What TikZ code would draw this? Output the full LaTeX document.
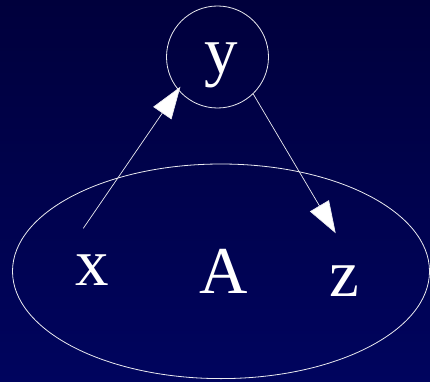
\documentclass[tikz,border=0pt]{standalone}
\usepackage{fontspec}
\setmainfont{Liberation Serif}
\usetikzlibrary{arrows.meta,shapes.geometric}
\definecolor{bgtop}{RGB}{0,0,60}
\definecolor{bgbot}{RGB}{0,4,94}
\definecolor{ink}{RGB}{235,235,240}
\tikzset{
  lbl/.style={text=white, font=\fontsize{67}{67}\selectfont, inner sep=0pt, anchor=base},
  circ/.style={draw=ink, line width=0.8pt, circle, minimum size=102pt, inner sep=0pt},
  setshape/.style={draw=ink, line width=0.8pt, ellipse, minimum width=417pt, minimum height=214.6pt, inner sep=0pt},
  arr/.style={draw=ink, line width=0.7pt, -{Triangle[length=32pt,width=22pt,fill=white]}}
}
\begin{document}
\begin{tikzpicture}[x=1pt,y=1pt]
  \shade[top color=bgtop, bottom color=bgbot] (0,0) rectangle (430,381);
  \useasboundingbox (0,0) rectangle (430,381);
  \node[setshape] (setA) at (221,109.7) {};
  \node[circ] (y) at (217.5,324) {};
  \node[lbl] (ylab) at (221,308) {y};
  \node[lbl] (x) at (92.7,96) {x};
  \node[lbl] (A) at (224,88) {A};
  \node[lbl] (z) at (344,84.3) {z};
  \coordinate (xs) at (83.3,152.7);
  \coordinate (zt) at (335.7,147.7);
  \draw[arr, shorten >=-4pt] (xs) -- (y.220.5);
  \draw[arr] (y.-46) -- (zt);
\end{tikzpicture}
\end{document}
